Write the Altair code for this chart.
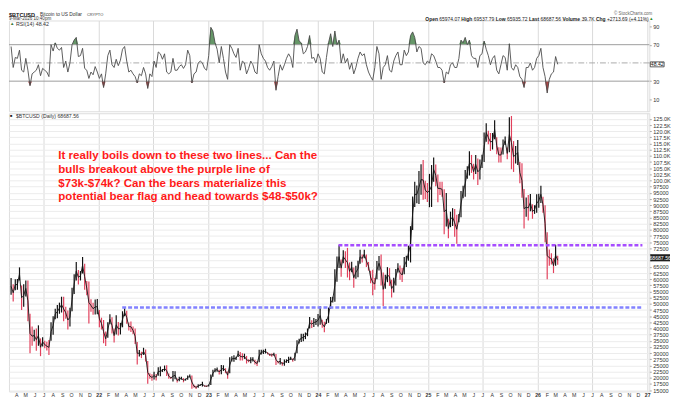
import altair as alt
import pandas as pd

FONT = "Liberation Sans"

# ---------------- data (weekly samples) ----------------
WEEK_START = "2021-03-15"

high_k = [
    60.5, 58.0, 60.0, 60.1, 64.8, 57.5, 58.0, 59.5, 59.5, 46.0,
    40.8, 39.5, 40.0, 41.3, 36.0, 36.5, 35.0, 34.6, 35.4, 42.5,
    45.0, 48.0, 49.5, 50.5, 52.9, 52.9, 48.8, 47.3, 48.4, 56.5,
    62.0, 67.0, 63.7, 63.3, 69.0, 66.3, 59.3, 59.1, 51.9, 50.5,
    51.8, 52.0, 47.5, 44.4, 43.5, 38.8, 42.5, 45.8, 44.6, 40.0,
    45.4, 42.6, 42.3, 47.0, 48.2, 47.2, 42.4, 42.9, 40.8, 40.0,
    34.5, 31.3, 30.6, 32.2, 31.5, 26.8, 21.9, 21.5, 22.5, 21.6,
    24.3, 24.6, 23.6, 25.0, 25.1, 21.8, 20.4, 22.8, 22.7, 19.7,
    20.4, 20.4, 19.9, 19.7, 21.0, 21.4, 21.0, 17.2, 16.8, 17.4,
    17.4, 18.4, 17.0, 16.9, 17.3, 21.4, 23.3, 23.9, 24.2, 23.3,
    25.2, 25.1, 23.9, 22.6, 28.4, 28.8, 29.2, 28.6, 31.0, 30.5,
    30.0, 29.8, 28.9, 27.5, 28.4, 28.4, 27.3, 26.8, 31.4, 31.4,
    31.4, 31.8, 30.4, 29.9, 29.9, 30.2, 29.7, 26.8, 28.1, 26.4,
    27.4, 27.5, 28.6, 28.6, 27.9, 30.2, 35.2, 35.9, 37.9, 37.9,
    38.4, 40.0, 44.7, 43.4, 44.3, 43.9, 45.9, 49.0, 43.6, 42.8,
    43.9, 48.5, 52.8, 52.9, 64.0, 69.2, 73.8, 68.0, 71.7, 71.3,
    72.7, 66.8, 67.1, 64.7, 65.5, 67.5, 71.9, 70.0, 71.9, 70.0,
    67.0, 63.4, 63.8, 60.5, 67.4, 69.4, 70.0, 62.7, 61.8, 64.9,
    64.5, 59.8, 60.6, 64.1, 66.5, 65.6, 64.5, 69.0, 69.5, 73.6,
    81.5, 93.5, 99.5, 98.0, 103.9, 106.6, 108.3, 99.9, 99.0, 102.7,
    106.3, 109.4, 106.5, 102.5, 99.5, 99.5, 96.5, 95.0, 84.5, 87.4,
    88.8, 88.5, 86.1, 86.4, 95.8, 97.9, 104.3, 105.8, 111.9, 110.4,
    106.8, 110.4, 108.9, 108.5, 110.5, 119.5, 123.2, 120.2, 119.3, 119.3,
    124.5, 117.6, 113.5, 113.4, 116.7, 117.9, 113.4, 125.7, 126.2, 116.0,
    114.0, 116.4, 107.5, 107.0, 96.6, 93.1, 94.1, 94.6, 90.4, 90.0,
    94.5, 94.7, 97.9, 93.4, 90.0, 79.0, 72.0, 70.5, 68.5, 74.0,
    69.5,
]

low_k = [
    53.7, 51.0, 55.5, 55.7, 59.5, 47.5, 48.8, 53.0, 43.0, 30.0,
    33.0, 34.8, 31.0, 33.0, 28.8, 32.7, 32.0, 31.1, 29.3, 35.0,
    37.5, 43.8, 44.2, 46.0, 46.5, 43.0, 44.0, 39.6, 40.8, 47.0,
    54.0, 59.5, 57.9, 59.5, 62.3, 55.7, 53.5, 42.0, 46.8, 45.6,
    45.7, 45.8, 40.5, 39.6, 34.0, 32.9, 36.3, 41.7, 38.0, 34.3,
    37.6, 37.2, 37.6, 40.5, 45.0, 41.9, 39.2, 38.6, 37.7, 33.7,
    25.4, 28.7, 28.0, 29.3, 26.6, 17.6, 19.6, 18.8, 19.3, 18.9,
    20.9, 20.7, 22.4, 22.7, 20.8, 19.6, 19.5, 18.5, 19.4, 18.1,
    18.6, 19.2, 18.2, 18.9, 19.2, 20.1, 15.6, 16.0, 15.5, 16.0,
    16.8, 16.5, 16.4, 16.3, 16.5, 17.1, 20.4, 22.3, 22.5, 21.4,
    21.5, 22.8, 21.9, 19.6, 21.9, 26.6, 26.5, 27.2, 28.5, 27.0,
    27.0, 27.7, 25.8, 26.3, 25.9, 26.6, 25.4, 24.8, 26.3, 29.5,
    29.7, 29.9, 29.5, 28.9, 28.6, 29.0, 25.2, 25.8, 25.4, 24.9,
    24.9, 26.1, 26.0, 27.2, 26.5, 26.9, 30.0, 33.9, 34.5, 34.8,
    35.7, 36.9, 40.0, 40.2, 40.6, 41.4, 40.8, 41.5, 40.3, 38.5,
    41.9, 42.3, 48.0, 50.6, 50.9, 59.0, 64.5, 61.0, 66.5, 64.5,
    60.7, 59.6, 62.8, 56.5, 60.2, 60.8, 66.3, 66.8, 68.5, 65.0,
    63.5, 58.4, 53.5, 55.7, 60.0, 63.5, 57.5, 49.1, 56.1, 58.8,
    57.3, 52.6, 54.6, 57.5, 62.7, 59.8, 58.9, 62.0, 65.0, 67.5,
    66.8, 80.0, 89.3, 90.8, 90.5, 94.2, 92.2, 92.5, 91.3, 89.2,
    89.3, 99.5, 97.7, 91.2, 94.1, 93.4, 78.2, 81.4, 76.6, 81.1,
    81.6, 77.2, 74.4, 83.1, 85.1, 92.8, 93.4, 100.7, 102.1, 103.1,
    100.4, 102.7, 98.2, 100.4, 105.1, 107.5, 115.7, 114.7, 112.0, 112.6,
    116.8, 110.7, 107.3, 107.3, 110.6, 114.4, 108.6, 111.5, 104.6, 103.5,
    106.9, 106.3, 98.9, 93.0, 80.6, 85.3, 83.8, 87.6, 84.5, 86.5,
    87.0, 89.0, 90.9, 87.0, 75.0, 60.0, 65.5, 66.0, 62.5, 65.5,
    65.9,
]

rsi_week = [
    68, 45, 56, 55, 64, 42, 40, 55, 42, 25,
    38, 40, 42, 48, 36, 44, 42, 40, 35, 70,
    63, 72, 66, 64, 67, 45, 52, 40, 50, 70,
    75, 78, 57, 58, 66, 44, 42, 33, 40, 37,
    46, 40, 33, 38, 23, 38, 58, 64, 48, 45,
    54, 47, 53, 65, 68, 52, 40, 42, 38, 35,
    28, 38, 36, 45, 38, 22, 38, 35, 52, 45,
    62, 60, 54, 60, 40, 38, 40, 55, 42, 42,
    46, 48, 44, 48, 64, 58, 28, 38, 40, 50,
    52, 50, 44, 42, 58, 89, 85, 72, 65, 50,
    68, 55, 40, 32, 70, 66, 60, 56, 66, 42,
    52, 50, 38, 44, 52, 48, 40, 38, 70, 60,
    55, 52, 45, 42, 46, 52, 20, 35, 48, 42,
    48, 55, 60, 56, 45, 80, 87, 74, 72, 60,
    62, 68, 80, 55, 56, 50, 60, 55, 40, 38,
    56, 72, 82, 68, 85, 70, 75, 50, 60, 50,
    55, 43, 50, 38, 45, 55, 62, 58, 60, 48,
    40, 35, 31, 45, 68, 60, 32, 45, 48, 58,
    42, 40, 52, 58, 62, 48, 48, 64, 58, 62,
    80, 84, 78, 62, 68, 66, 50, 48, 52, 50,
    60, 58, 52, 45, 45, 42, 28, 40, 38, 48,
    50, 45, 45, 55, 75, 72, 78, 70, 75, 58,
    55, 55, 45, 58, 60, 74, 65, 58, 48, 55,
    58, 42, 38, 48, 58, 56, 42, 71, 45, 42,
    48, 45, 35, 32, 23, 45, 45, 50, 42, 45,
    55, 58, 66, 45, 35, 17, 32, 38, 40, 57,
    48.42,
]

LAST_PRICE = 68687.56
LAST_RSI = 48.42

level_names = ["purple", "blue"]
level_values = [73800, 48500]
level_starts = ["2024-03-09", "2022-03-20"]
level_ends = ["2026-12-16", "2026-12-16"]
level_colors = ["#a64dff", "#8282ff"]

note_lines = [
    "It really boils down to these two lines... Can the",
    "bulls breakout above the purple line of",
    "$73k-$74k? Can the bears materialize this",
    "potential bear flag and head towards $48-$50k?",
]

rsi_levels = [30, 70]
rsi_mid = [50]
rsi_ticks = [10, 30, 50, 70, 90]
price_ticks = list(range(15000, 125001, 2500))

# ---------------- frames ----------------
n = min(len(high_k), len(low_k), len(rsi_week))
dates = list(pd.date_range(WEEK_START, periods=n, freq="7D").strftime("%Y-%m-%d"))
highs = [h * 1000 for h in high_k[:n]]
lows = [l * 1000 for l in low_k[:n]]
mids = [(h + l) / 2 for h, l in zip(highs, lows)]
cols = ["#111111"] + ["#111111" if mids[i] >= mids[i - 1] else "#e2405c" for i in range(1, n)]
price_df = pd.DataFrame({"date": dates, "high": highs, "low": lows, "mid": mids, "col": cols})
rsi_df = pd.DataFrame({"date": dates, "rsi": rsi_week[:n]})
levels_df = pd.DataFrame({"name": level_names, "level": level_values,
                          "start": level_starts, "end": level_ends, "col": level_colors})


def ms(s):
    return int(pd.Timestamp(s, tz="UTC").value // 10**6)


W = 649
H_RSI = 92
H_PRICE = 282

x_domain = [ms("2021-03-08"), ms("2027-01-08")]
month_ticks = [ms(d) for d in pd.date_range("2021-04-01", "2027-01-01", freq="MS").strftime("%Y-%m-%d")]
half_year = "utcmonth(datum.value) % 6 == 0"
grid_col = {"condition": {"test": half_year, "value": "#d9d9d9"}, "value": "rgba(0,0,0,0)"}

x_scale = alt.Scale(type="utc", domain=x_domain)
x_axis_price = alt.Axis(
    values=month_ticks,
    labelExpr="utcmonth(datum.value) == 0 ? utcFormat(datum.value, '%y') : substring(utcFormat(datum.value, '%b'), 0, 1)",
    labelFontSize=5.3, labelColor="#333333", labelFont=FONT, labelPadding=1.5,
    labelOverlap=False, labelAngle=0, labelFlush=False,
    labelFontWeight={"condition": {"test": "utcmonth(datum.value) == 0", "value": "bold"}, "value": "normal"},
    ticks=False, domain=False, grid=True, gridColor=grid_col, gridWidth=1, title=None,
)
x_axis_rsi = alt.Axis(values=month_ticks, labels=False, ticks=False, domain=False,
                      grid=True, gridColor=grid_col, gridWidth=1, title=None)

# labels hidden behind the last-value boxes (as in the reference)
y_price_scale = alt.Scale(domain=[14480, 127300], nice=False, zero=False)
y_axis_price = alt.Axis(
    orient="right", values=price_ticks,
    labelExpr=("abs(datum.value - %f) < 2600 ? '' : (datum.value >= 100000 ? "
               "format(datum.value / 1000, '.1f') + 'K' : format(datum.value, 'd'))") % LAST_PRICE,
    labelFontSize=5.6, labelColor="#333333", labelFont=FONT, labelPadding=1.5,
    labelOverlap=False, ticks=True, tickSize=2, tickColor="#aaaaaa", domain=False,
    grid=True, gridColor="#ececec", title=None,
)
y_rsi_scale = alt.Scale(domain=[-3.0, 96.5], nice=False, zero=False)
y_axis_rsi = alt.Axis(orient="right", values=rsi_ticks,
                      labelExpr="abs(datum.value - %f) < 4 ? '' : datum.label" % LAST_RSI,
                      labelFontSize=5.6, labelColor="#333333",
                      labelFont=FONT, labelPadding=1.5, ticks=True, tickSize=2, tickColor="#aaaaaa",
                      domain=False, grid=False, title=None)

Xp = alt.X("date:T", scale=x_scale, axis=x_axis_price)
Xr = alt.X("date:T", scale=x_scale, axis=x_axis_rsi)


def label(txt, x, y, size, weight="normal", color="#222222", align="left"):
    return alt.Chart(pd.DataFrame({"t": [txt]})).mark_text(
        align=align, baseline="middle", font=FONT, fontSize=size, fontWeight=weight, color=color
    ).encode(x=alt.value(x), y=alt.value(y), text="t:N")


box_path = "M-1,-0.36H1V0.36H-1Z"

# ---------------- RSI panel ----------------
rsi_green = alt.Chart(rsi_df).transform_calculate(
    top="max(datum.rsi, 70)", base="70"
).mark_area(color="#5e9160", opacity=0.95).encode(
    x=Xr, y=alt.Y("top:Q", scale=y_rsi_scale, axis=y_axis_rsi), y2="base:Q")
rsi_red = alt.Chart(rsi_df).transform_calculate(
    bot="min(datum.rsi, 30)", base="30"
).mark_area(color="#a83c3c", opacity=0.95).encode(
    x=Xr, y=alt.Y("bot:Q", scale=y_rsi_scale, axis=y_axis_rsi), y2="base:Q")
rsi_lvls = alt.Chart(pd.DataFrame({"lvl": rsi_levels})).mark_rule(color="#9c9c9c", strokeWidth=1).encode(
    y=alt.Y("lvl:Q", scale=y_rsi_scale, axis=y_axis_rsi))
rsi_mid_rule = alt.Chart(pd.DataFrame({"lvl": rsi_mid})).mark_rule(
    color="#aaaaaa", strokeWidth=1, strokeDash=[6, 2, 1, 2]).encode(
    y=alt.Y("lvl:Q", scale=y_rsi_scale, axis=y_axis_rsi))
rsi_line = alt.Chart(rsi_df).mark_line(color="#4a4a4a", strokeWidth=0.9).encode(
    x=Xr, y=alt.Y("rsi:Q", scale=y_rsi_scale, axis=y_axis_rsi))
rsi_box = alt.Chart(pd.DataFrame({"v": [LAST_RSI]})).mark_point(
    shape=box_path, filled=True, size=196, color="#ffffff", stroke="#333333", strokeWidth=0.8, opacity=1
).encode(x=alt.value(657), y=alt.Y("v:Q", scale=y_rsi_scale, axis=y_axis_rsi))
rsi_box_txt = alt.Chart(pd.DataFrame({"v": [LAST_RSI]})).mark_text(
    font=FONT, fontSize=5.2, color="#111111", baseline="middle"
).encode(x=alt.value(657), y=alt.Y("v:Q", scale=y_rsi_scale, axis=y_axis_rsi),
         text=alt.Text("v:Q", format=".2f"))

hdr = [
    label("$BTCUSD", 0, -6, 5.6, "bold", "#111111"),
    label("Bitcoin to US Dollar", 31.5, -6, 4.9, "normal", "#333333"),
    label("CRYPTO", 79, -6, 4.0, "normal", "#444444"),
    label("9-Mar-2026 10:40pm", 0, -1.2, 4.6, "normal", "#333333"),
    label("\u25B2", 1, 4, 4.5, "normal", "#3c7a3c"),
    label("RSI(14) 48.42", 7, 4, 5.4, "normal", "#333333"),
    label("\u00A9 StockCharts.com", 652, -6.5, 4.5, "normal", "#666666", "right"),
]
seg = [("Open", 422, "bold"), ("65974.07", 436.2, "normal"), ("High", 458.5, "bold"),
       ("69537.79", 471.0, "normal"), ("Low", 493.3, "bold"), ("65935.72", 504.7, "normal"),
       ("Last", 527.0, "bold"), ("68687.56", 538.7, "normal"), ("Volume", 561.0, "bold"),
       ("39.7K", 580.4, "normal"), ("Chg", 594.9, "bold"), ("+2713.69 (+4.11%)", 606.0, "normal")]
for t, xx, wgt in seg:
    hdr.append(label(t, xx, -1.5, 5.0, wgt, "#222222"))
hdr.append(label("\u25B2", 649, -1.5, 4.2, "normal", "#2e8b2e"))

rsi_panel = alt.layer(rsi_green, rsi_red, rsi_lvls, rsi_mid_rule, rsi_line, rsi_box, rsi_box_txt,
                      *hdr).properties(width=W, height=H_RSI)

# ---------------- price panel ----------------
candles = alt.Chart(price_df).mark_rule(strokeWidth=1.2).encode(
    x=Xp, y=alt.Y("low:Q", scale=y_price_scale, axis=y_axis_price), y2="high:Q",
    color=alt.Color("col:N", scale=None))
mid_line = alt.Chart(price_df).mark_line(strokeWidth=0.9, color="#151515").encode(
    x=Xp, y=alt.Y("mid:Q", scale=y_price_scale, axis=y_axis_price))
levels = alt.Chart(levels_df).mark_rule(strokeWidth=2.6, strokeDash=[4, 2]).encode(
    x=alt.X("start:T", scale=x_scale, axis=x_axis_price), x2="end:T",
    y=alt.Y("level:Q", scale=y_price_scale, axis=y_axis_price),
    color=alt.Color("col:N", scale=None))
price_box = alt.Chart(pd.DataFrame({"v": [LAST_PRICE]})).mark_point(
    shape=box_path, filled=True, size=400, color="#1e1e1e", opacity=1
).encode(x=alt.value(660), y=alt.Y("v:Q", scale=y_price_scale, axis=y_axis_price))
price_box_txt = alt.Chart(pd.DataFrame({"v": [LAST_PRICE]})).mark_text(
    font=FONT, fontSize=5.2, color="#ffffff", baseline="middle"
).encode(x=alt.value(660), y=alt.Y("v:Q", scale=y_price_scale, axis=y_axis_price),
         text=alt.Text("v:Q", format=".2f"))

notes = [label(t, 50, 42.7 + 13.9 * i, 11.7, "bold", "#ff1a1a") for i, t in enumerate(note_lines)]
plabels = [label("\u25A0", 1, 3, 4.0, "normal", "#222222"),
           label("$BTCUSD (Daily) 68687.56", 7, 3, 5.2, "normal", "#333333")]

price_panel = alt.layer(candles, mid_line, levels, price_box, price_box_txt, *notes, *plabels
                        ).properties(width=W, height=H_PRICE)

chart = alt.vconcat(rsi_panel, price_panel, spacing=0).properties(
    padding={"left": 0, "top": 0, "right": 0, "bottom": 0}
).configure_view(stroke="#a8a8a8", strokeWidth=1).configure(font=FONT)

chart.save("out.html", embed_options={"renderer": "svg", "actions": False})
